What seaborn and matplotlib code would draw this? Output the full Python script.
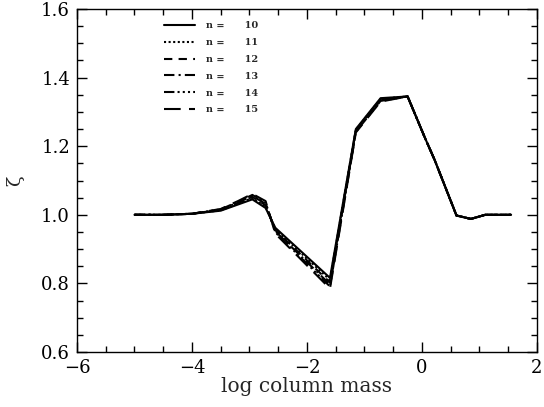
import numpy as np
import pandas as pd
import matplotlib
matplotlib.use("Agg")
import matplotlib.pyplot as plt
from matplotlib.ticker import MultipleLocator
import seaborn as sns

# ---- data ----
logm = [-5.0, -4.5, -4.0, -3.5, -3.2, -2.95, -2.72, -2.55, -1.6,
        -1.15, -0.72, -0.25, 0.05, 0.22, 0.6, 0.85, 1.1, 1.55]

zeta_n10 = [1.0, 1.0, 1.003, 1.012, 1.030, 1.045, 1.020, 0.962, 0.816,
            1.250, 1.340, 1.345, 1.225, 1.160, 0.998, 0.988, 1.0, 1.0]
zeta_n11 = [1.0, 1.0, 1.003, 1.013, 1.032, 1.049, 1.024, 0.958, 0.810,
            1.248, 1.338, 1.345, 1.225, 1.160, 0.998, 0.988, 1.0, 1.0]
zeta_n12 = [1.0, 1.0, 1.003, 1.014, 1.034, 1.052, 1.028, 0.955, 0.803,
            1.246, 1.336, 1.345, 1.225, 1.160, 0.998, 0.988, 1.0, 1.0]
zeta_n13 = [1.0, 1.0, 1.003, 1.015, 1.036, 1.055, 1.032, 0.952, 0.797,
            1.244, 1.334, 1.345, 1.225, 1.160, 0.998, 0.988, 1.0, 1.0]
zeta_n14 = [1.0, 1.0, 1.003, 1.016, 1.038, 1.058, 1.036, 0.949, 0.791,
            1.242, 1.332, 1.345, 1.225, 1.160, 0.998, 0.988, 1.0, 1.0]
zeta_n15 = [1.0, 1.0, 1.003, 1.017, 1.040, 1.061, 1.040, 0.945, 0.785,
            1.240, 1.330, 1.345, 1.225, 1.160, 0.998, 0.988, 1.0, 1.0]

n_values = [10, 11, 12, 13, 14, 15]
series = [zeta_n10, zeta_n11, zeta_n12, zeta_n13, zeta_n14, zeta_n15]

x_ticks = [-6, -4, -2, 0, 2]
y_ticks = [0.6, 0.8, 1.0, 1.2, 1.4, 1.6]

# ---- styling ----
sns.set_style("ticks")
plt.rcParams["font.family"] = ["DejaVu Serif", "DejaVu Sans"]
plt.rcParams["mathtext.fontset"] = "dejavuserif"

linestyles = ["-", (0, (1, 1.2)), (0, (4, 3)), (0, (5, 2, 1, 2)),
              (0, (5, 1.5, 1, 1.5, 1, 1.5, 1, 1.5)), (0, (8, 4))]

fig = plt.figure(figsize=(5.44, 4.07), dpi=100)
ax = fig.add_axes([0.1415, 0.1351, 0.8456, 0.8428])

for n, vals, ls in zip(n_values, series, linestyles):
    df = pd.DataFrame({"logm": logm, "zeta": vals})
    sns.lineplot(data=df, x="logm", y="zeta", ax=ax, color="black",
                 linestyle=ls, linewidth=1.5, label=f"n =      {n}",
                 sort=False)

ax.set_xlim(-6, 2)
ax.set_ylim(0.6, 1.6)
ax.set_xticks(x_ticks)
ax.set_yticks(y_ticks)
ax.set_xticklabels([f"{t:d}".replace("-", "\u2212") for t in x_ticks])
ax.set_yticklabels([f"{t:.1f}" for t in y_ticks])
ax.xaxis.set_minor_locator(MultipleLocator(0.5))
ax.yaxis.set_minor_locator(MultipleLocator(0.05))
ax.tick_params(which="both", direction="in", top=True, right=True,
               labelsize=13, width=1.0, colors="black")
ax.tick_params(which="major", length=7, pad=5)
ax.tick_params(which="minor", length=4)
for s in ax.spines.values():
    s.set_linewidth(1.0)
    s.set_color("black")

ax.set_xlabel("log column mass", fontsize=14.5, labelpad=0)
ax.set_ylabel("\u03b6", fontsize=14, labelpad=12)

leg = ax.legend(loc="upper left", bbox_to_anchor=(0.18, 0.975), frameon=False,
                fontsize=7, handlelength=3.2, handletextpad=1.2,
                labelspacing=0.8, borderaxespad=0)
for t in leg.get_texts():
    t.set_fontweight("bold")

fig.savefig("out.png", dpi=100)
